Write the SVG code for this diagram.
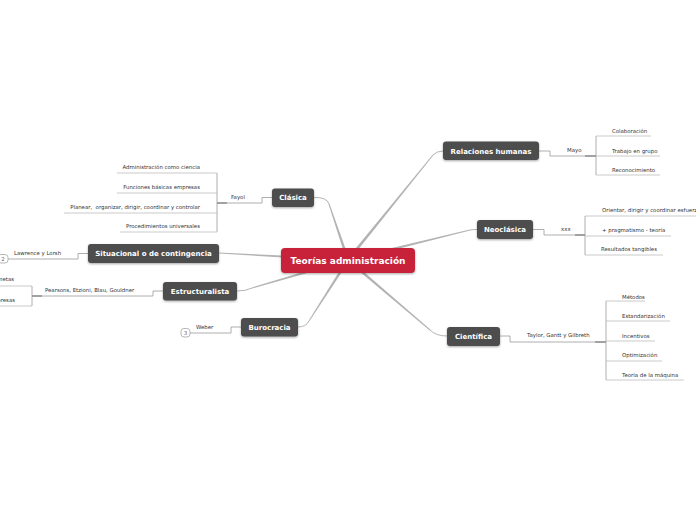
<svg xmlns="http://www.w3.org/2000/svg" width="696" height="520" viewBox="0 0 696 520">
<defs>
<filter id="sh" x="-10%" y="-20%" width="120%" height="160%">
<feDropShadow dx="0" dy="1" stdDeviation="0.8" flood-color="#000" flood-opacity="0.35"/>
</filter>
<style>
.node rect{fill:#4d4d4d;filter:url(#sh)}
.node text{font-family:"DejaVu Sans",Verdana,sans-serif;font-weight:bold;font-size:7px;fill:#fff;text-anchor:middle}
#central rect{fill:#c8203a}
#central text{font-size:9px}
.main{fill:#b3b3b3;stroke:none}
.mainc{fill:none;stroke:#b3b3b3;stroke-width:1}
.br{fill:none;stroke:#9a9a9a;stroke-width:0.8}
.ul{fill:none;stroke:#bdbdbd;stroke-width:0.8}
.dk{fill:none;stroke:#444;stroke-width:1}
.lbl{font-family:"DejaVu Sans",Verdana,sans-serif;font-size:5.4px;fill:#333}
.end{text-anchor:end}
.badge rect{fill:#fff;stroke:#999;stroke-width:0.7}
.badge text{font-family:"DejaVu Sans",sans-serif;font-size:5.5px;fill:#666;text-anchor:middle}
</style>
</defs>
<rect width="696" height="520" fill="#fff"/>
<g id="connectors">
<polygon class="main" points="349.4,259.5 329.5,203.8 328.5,204.2 346.6,260.5"/>
<path class="mainc" d="M329,204 Q327,197 314,197.5"/>
<polygon class="main" points="349.2,260.9 433.4,155.3 432.6,154.7 346.8,259.1"/>
<path class="mainc" d="M433,155 Q437,151 443,151"/>
<polygon class="main" points="348.4,261.5 470.1,230.5 469.9,229.5 347.6,258.5"/>
<path class="mainc" d="M470,230 Q473,229.5 477,229.5"/>
<polygon class="main" points="348.1,258.5 219,252.5 219,253.5 347.9,261.5"/>
<polygon class="main" points="348.4,261.4 252.1,288.5 251.9,287.5 347.6,258.6"/>
<path class="mainc" d="M252,288 Q246,291 237,291"/>
<polygon class="main" points="349.3,260.8 309.4,321.3 308.6,320.7 346.7,259.2"/>
<path class="mainc" d="M309,321 Q306,327 298,327"/>
<polygon class="main" points="347,261.1 429.7,330.4 430.3,329.6 349,258.9"/>
<path class="mainc" d="M430,330 Q436,336 447,336"/>
<!-- Clasica -> Fayol -->
<path class="br" d="M272,197.5 H262 V203 H227"/>
<path class="dk" d="M227,203 H217"/>
<path class="br" d="M217,173 V232"/>
<path class="ul" d="M117,173 H217 M117,193 H217 M64,213 H217 M120,232 H217"/>
<!-- Relaciones -> Mayo -->
<path class="br" d="M539,151 H550 V156 H585"/>
<path class="dk" d="M585,156 H596"/>
<path class="br" d="M596,136 V175"/>
<path class="ul" d="M596,136 H651 M596,156 H660 M596,175 H660"/>
<!-- Neoclasica -> xxx -->
<path class="br" d="M533,229.5 H544 V235 H575"/>
<path class="dk" d="M575,235 H585"/>
<path class="br" d="M585,216 V255"/>
<path class="ul" d="M585,216 H696 M585,236 H671 M585,255 H663"/>
<!-- Cientifica -> Taylor -->
<path class="br" d="M500,336 H510 V342 H595"/>
<path class="dk" d="M595,342 H606"/>
<path class="br" d="M606,301 V380"/>
<path class="ul" d="M606,301 H645 M606,321 H670 M606,341 H655 M606,361 H662 M606,380 H684"/>
<!-- Situacional -> Lawrence -->
<path class="br" d="M88,253.5 H78 V259 H8"/>
<!-- Estructuralista -> Pearsons -->
<path class="br" d="M163,291 H153 V296 H42"/>
<path class="dk" d="M42,296 H32"/>
<path class="br" d="M32,286 V306"/>
<path class="ul" d="M0,286 H32 M0,306 H32"/>
<!-- Burocracia -> Weber -->
<path class="br" d="M241,327 H231 V333 H190"/>
</g>
<g id="labels">
<text class="lbl end" x="200" y="169">Administración como ciencia</text>
<text class="lbl end" x="200" y="189">Funciones básicas empresas</text>
<text class="lbl end" x="200" y="209" xml:space="preserve">Planear,  organizar, dirigir, coordinar y controlar</text>
<text class="lbl end" x="200" y="228">Procedimientos universales</text>
<text class="lbl" x="231" y="199">Fayol</text>
<text class="lbl" x="567" y="152">Mayo</text>
<text class="lbl" x="612" y="133">Colaboración</text>
<text class="lbl" x="612" y="153">Trabajo en grupo</text>
<text class="lbl" x="612" y="172">Reconocimiento</text>
<text class="lbl" x="561" y="231">xxx</text>
<text class="lbl" x="602" y="212">Orientar, dirigir y coordinar esfuerzos</text>
<text class="lbl" x="602" y="232">+ pragmatismo - teoría</text>
<text class="lbl" x="601" y="251">Resultados tangibles</text>
<text class="lbl" x="527" y="337">Taylor, Gantt y Gilbreth</text>
<text class="lbl" x="622" y="299">Métodos</text>
<text class="lbl" x="622" y="318">Estandarización</text>
<text class="lbl" x="622" y="338">Incentivos</text>
<text class="lbl" x="622" y="357">Optimización</text>
<text class="lbl" x="622" y="377">Teoría de la máquina</text>
<text class="lbl" x="14" y="255">Lawrence y Lorsh</text>
<text class="lbl" x="45" y="292">Pearsons, Etzioni, Blau, Gouldner</text>
<text class="lbl end" x="14" y="281">metas</text>
<text class="lbl end" x="15" y="302">empresas</text>
<text class="lbl" x="196" y="329">Weber</text>
</g>
<g class="badge" id="badge-situacional"><rect x="-2" y="254.5" width="10" height="8.5" rx="3"/><text x="3" y="261">2</text></g>
<g class="badge" id="badge-burocracia"><rect x="181" y="328.5" width="9" height="8.5" rx="3"/><text x="185.5" y="335">3</text></g>
<g class="node" id="central"><rect x="281" y="248" width="134" height="25" rx="4"/><text x="348" y="264">Teorías administración</text></g>
<g class="node" id="clasica"><rect x="272" y="188.5" width="42" height="18.5" rx="3"/><text x="293" y="200">Clásica</text></g>
<g class="node" id="relaciones"><rect x="443" y="141.5" width="96" height="18.5" rx="3"/><text x="491" y="153.5">Relaciones humanas</text></g>
<g class="node" id="neoclasica"><rect x="477" y="220" width="56" height="19" rx="3"/><text x="505" y="232">Neoclásica</text></g>
<g class="node" id="situacional"><rect x="88" y="244" width="131" height="19" rx="3"/><text x="153.5" y="256">Situacional o de contingencia</text></g>
<g class="node" id="estructuralista"><rect x="163" y="282" width="74" height="18.5" rx="3"/><text x="200" y="293.5">Estructuralista</text></g>
<g class="node" id="burocracia"><rect x="241" y="318" width="57" height="18.5" rx="3"/><text x="269.5" y="329.5">Burocracia</text></g>
<g class="node" id="cientifica"><rect x="447" y="327" width="53" height="19" rx="3"/><text x="473.5" y="339">Científica</text></g>
</svg>
